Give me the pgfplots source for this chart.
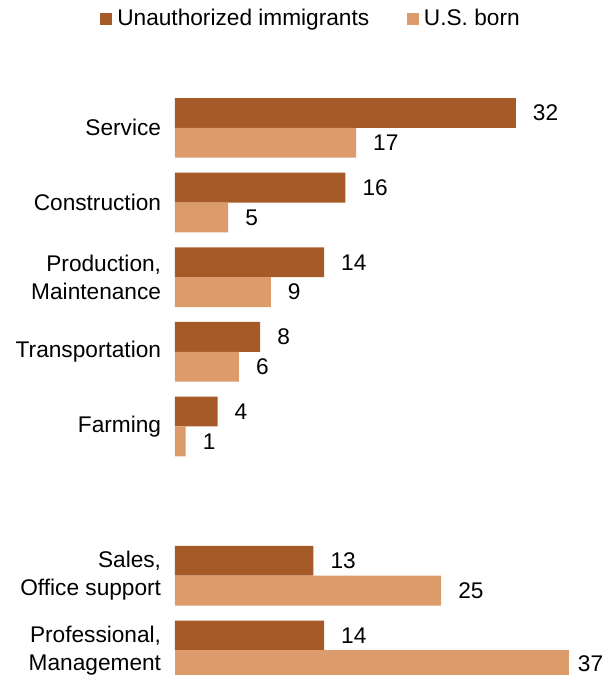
\documentclass[border=0pt]{standalone}
\usepackage{pgfplots}
\pgfplotsset{compat=1.18}
\usepackage{fontspec}
\setmainfont{Liberation Sans}
\definecolor{dark}{HTML}{A55A28}
\definecolor{light}{HTML}{DD9A6B}
\begin{document}
\fontsize{17}{21}\selectfont
\begin{tikzpicture}
\useasboundingbox (-131.25pt,0pt) rectangle (328.5pt,506.25pt);
\begin{axis}[
  at={(0pt,0pt)}, anchor=south west,
  scale only axis, width=328.5pt, height=432.75pt,
  xbar, bar width=0.4,
  xmin=0, xmax=41.13,
  ymin=-0.4, ymax=7.33, y dir=reverse,
  axis line style={draw=none}, tick style={draw=none},
  xtick=\empty,
  ytick={0,1,2,3,4,6,7},
  yticklabels={Service, Construction, {Production,\\Maintenance}, Transportation, Farming, {Sales,\\Office support}, {Professional,\\Management}},
  yticklabel style={align=right, inner sep=0pt, xshift=-6pt, font=\fontsize{17}{21}\selectfont},
  clip=false,
  /pgf/number format/assume math mode=true,
  nodes near coords,
  nodes near coords style={font=\fontsize{17}{21}\selectfont, text=black, xshift=7pt},
  legend columns=2,
  legend image code/.code={\fill[#1] (0pt,-4.5pt) rectangle (9pt,4.5pt);},
  legend style={draw=none, fill=none, at={(-0.181,1.137)}, anchor=west,
    font=\fontsize{17}{21}\selectfont,
    /tikz/every even column/.append style={column sep=24pt},
    nodes={inner sep=4pt}},
]
\addplot[fill=dark, draw=none, bar shift=-0.2] coordinates {(32,0) (16,1) (14,2) (8,3) (4,4) (13,6) (14,7)};
\addlegendentry{Unauthorized immigrants}
\addplot[fill=light, draw=none, bar shift=0.2] coordinates {(17,0) (5,1) (9,2) (6,3) (1,4) (25,6)};
\addlegendentry{U.S. born}
\addplot[fill=light, draw=none, bar shift=0.2, forget plot,
  every node near coord/.append style={inner sep=1pt, xshift=-1.5pt, yshift=1pt}] coordinates {(37,7)};
\end{axis}
\end{tikzpicture}
\end{document}
